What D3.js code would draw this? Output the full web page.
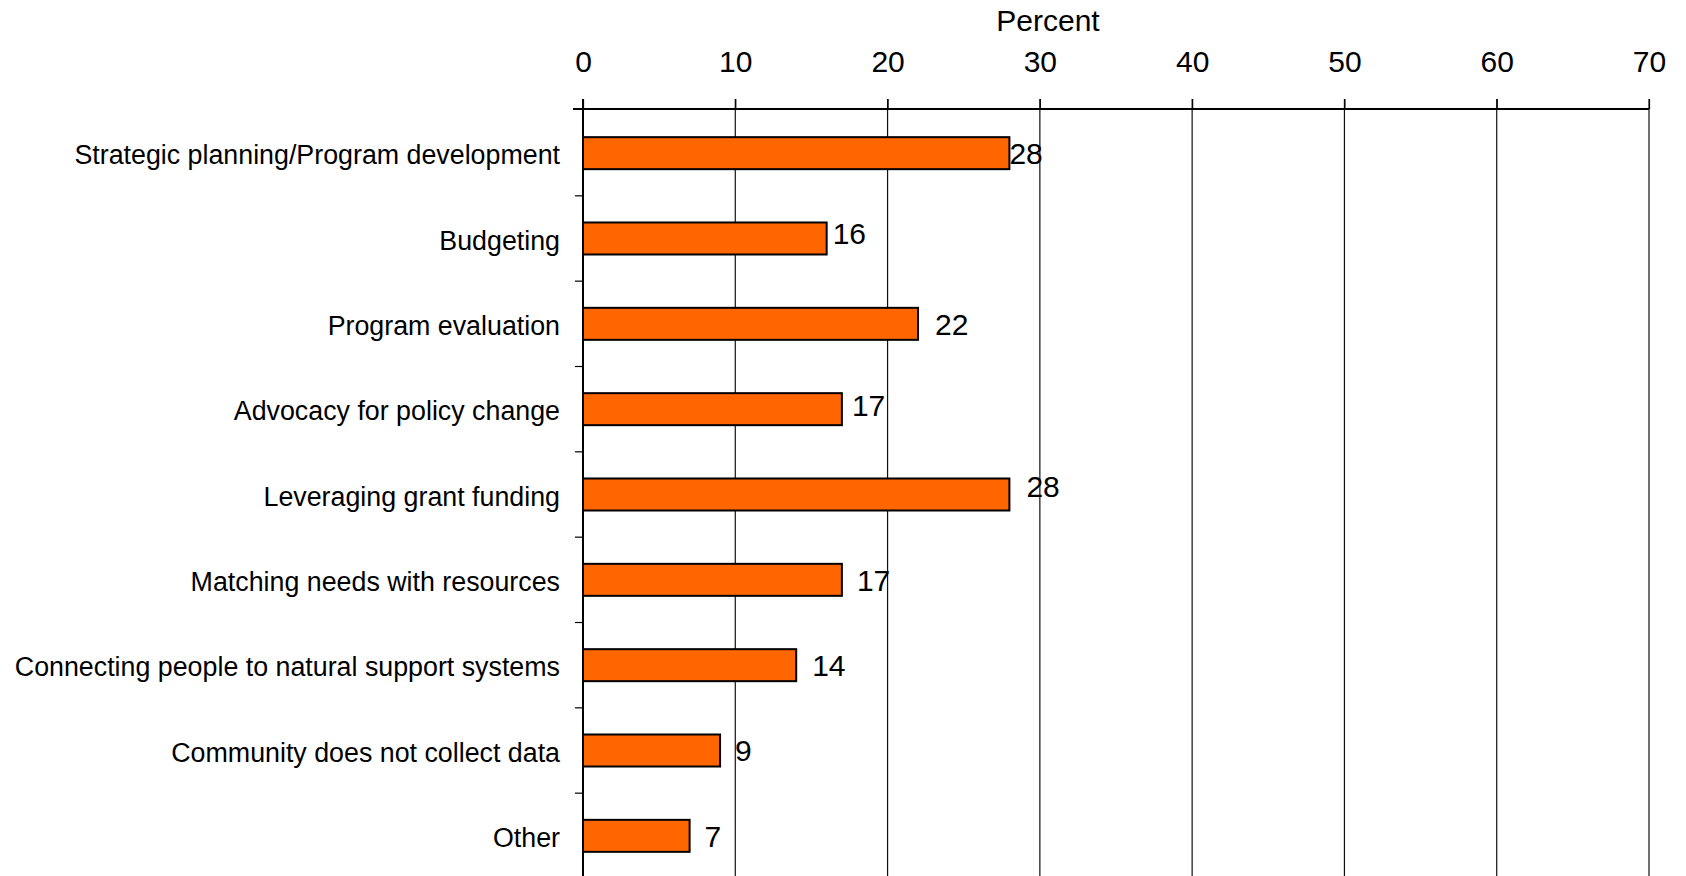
<!DOCTYPE html>
<html>
<head>
<meta charset="utf-8">
<script src="https://cdn.jsdelivr.net/npm/d3@7"></script>
<style>
  body { margin: 0; background: #fff; }
  svg { display: block; font-family: "Liberation Sans", Arial, sans-serif; }
</style>
</head>
<body>
<script>
// categories, top to bottom
const categories = [
  "Strategic planning/Program development",
  "Budgeting",
  "Program evaluation",
  "Advocacy for policy change",
  "Leveraging grant funding",
  "Matching needs with resources",
  "Connecting people to natural support systems",
  "Community does not collect data",
  "Other"
];
const percents = [28, 16, 22, 17, 28, 17, 14, 9, 7];
const tickValues = [0, 10, 20, 30, 40, 50, 60, 70];
const axisTitle = "Percent";

// the original puts the value labels a bit irregularly, these are the nudges (px)
const labelDx = [0, 6, 17, 10, 17, 15, 16, 15, 15];
const labelDy = [0, -5, 0, -4, -8, 0, 0, 0, 0];

const W = 1686, H = 876;
const plot = {left: 583, right: 1649, top: 109, bottom: 880};

const svg = d3.select("body").append("svg")
  .attr("width", W)
  .attr("height", H);

let x = d3.scaleLinear()
  .domain([0, 70])
  .range([plot.left, plot.right]);

let y = d3.scaleBand()
  .domain(categories)
  .range([plot.top, plot.bottom])
  .paddingInner(0.625)
  .paddingOuter(0.33);

// vertical grid lines
svg.append("g")
  .selectAll("line")
  .data(tickValues.slice(1))
  .enter()
  .append("line")
  .attr("x1", d => x(d))
  .attr("x2", d => x(d))
  .attr("y1", plot.top - 10)
  .attr("y2", plot.bottom)
  .attr("stroke", "#111")
  .attr("stroke-width", 1.2);

// top axis with labels
let xAxis = svg.append("g")
  .attr("transform", "translate(0," + plot.top + ")")
  .call(d3.axisTop(x).tickValues(tickValues).tickSize(10).tickPadding(27));
xAxis.select(".domain").remove();
xAxis.selectAll(".tick line").attr("stroke", "#000").attr("stroke-width", 1.2);
xAxis.selectAll(".tick text")
  .attr("font-size", 30)
  .attr("font-family", "Liberation Sans, Arial, sans-serif")
  .attr("fill", "#000");

svg.append("text")
  .attr("x", 1048)
  .attr("y", 31)
  .attr("text-anchor", "middle")
  .attr("font-size", 30)
  .attr("fill", "#000")
  .text(axisTitle);

// top line and the left axis
svg.append("line")
  .attr("x1", plot.left - 10).attr("x2", plot.right)
  .attr("y1", plot.top).attr("y2", plot.top)
  .attr("stroke", "#000").attr("stroke-width", 2);
svg.append("line")
  .attr("x1", plot.left).attr("x2", plot.left)
  .attr("y1", plot.top - 10).attr("y2", plot.bottom)
  .attr("stroke", "#000").attr("stroke-width", 2);

// small ticks between the categories
let gap = (y.step() - y.bandwidth()) / 2;
svg.append("g")
  .selectAll("line")
  .data(categories.slice(1))
  .enter()
  .append("line")
  .attr("x1", plot.left - 8)
  .attr("x2", plot.left)
  .attr("y1", d => y(d) - gap)
  .attr("y2", d => y(d) - gap)
  .attr("stroke", "#000")
  .attr("stroke-width", 1.2);

// category labels
let yAxis = svg.append("g")
  .attr("transform", "translate(" + plot.left + ",0)")
  .call(d3.axisLeft(y).tickSize(0).tickPadding(23));
yAxis.select(".domain").remove();
yAxis.selectAll(".tick text")
  .attr("dy", "0.42em")
  .attr("font-size", 26.8)
  .attr("font-family", "Liberation Sans, Arial, sans-serif")
  .attr("fill", "#000");

// bars
svg.append("g")
  .selectAll("rect")
  .data(percents)
  .enter()
  .append("rect")
  .attr("x", x(0))
  .attr("y", (d, i) => y(categories[i]))
  .attr("width", d => x(d) - x(0))
  .attr("height", y.bandwidth())
  .attr("fill", "#FF6600")
  .attr("stroke", "#000")
  .attr("stroke-width", 2);

// value labels
svg.append("g")
  .selectAll("text")
  .data(percents)
  .enter()
  .append("text")
  .attr("x", (d, i) => x(d) + labelDx[i])
  .attr("y", (d, i) => y(categories[i]) + y.bandwidth() / 2 + labelDy[i])
  .attr("dy", "0.36em")
  .attr("font-size", 30)
  .attr("fill", "#000")
  .text(d => d);
</script>
</body>
</html>
